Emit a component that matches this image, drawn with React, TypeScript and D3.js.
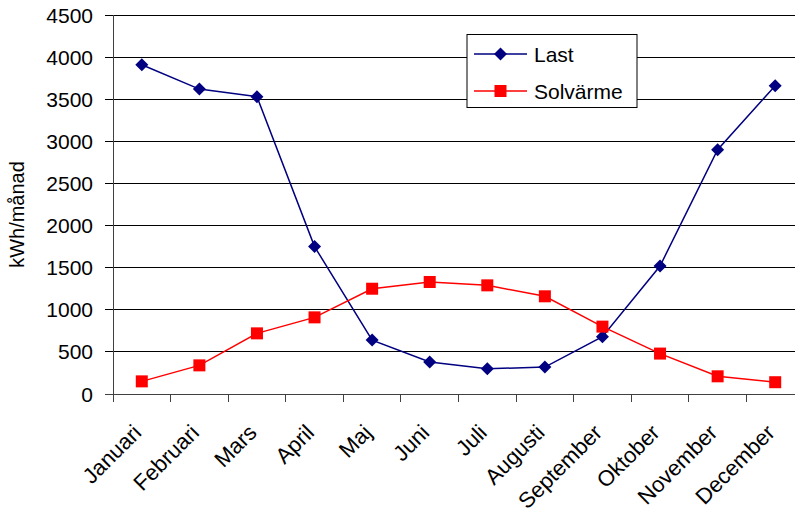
import React from "react";
import * as d3 from "d3";

const months = ["Januari","Februari","Mars","April","Maj","Juni","Juli","Augusti","September","Oktober","November","December"];
const last = [3910,3620,3530,1750,640,380,300,320,680,1520,2900,3660];
const solvarme = [150,340,720,910,1250,1330,1290,1160,800,480,210,140];
const yTicks = [0,500,1000,1500,2000,2500,3000,3500,4000,4500];

const W = 795, H = 514;
const L = 113, R = 804, T = 15, B = 394;
const FONT = "Liberation Sans, Arial, sans-serif";

export default function App() {
  const x = d3.scaleBand<string>().domain(months).range([L, R]);
  const y = d3.scaleLinear().domain([0, 4500]).range([B, T]);
  const cx = (m: string) => (x(m) as number) + x.bandwidth() / 2;
  const line = d3.line<number>().x((_, i) => cx(months[i])).y(d => y(d));
  const diamond = (px: number, py: number, r: number) => `M${px},${py - r}L${px + r},${py}L${px},${py + r}L${px - r},${py}Z`;
  return (
    <div style={{ position: "absolute", left: 0, top: 0 }}>
      <svg width={W} height={H} style={{ display: "block", background: "#fff" }}>
        {yTicks.map(t => (
          <g key={t}>
            <line x1={105} x2={W} y1={y(t)} y2={y(t)} stroke={t === 0 ? "#404040" : "#000"} strokeWidth={1} shapeRendering="crispEdges" />
            <text x={93} y={y(t)} dy="0.36em" textAnchor="end" fontFamily={FONT} fontSize={21} fill="#000">{t}</text>
          </g>
        ))}
        <line x1={L} x2={L} y1={T} y2={B + 8} stroke="#404040" strokeWidth={1} shapeRendering="crispEdges" />
        {months.map((m, i) => (
          <line key={"t" + i} x1={x(m) as number} x2={x(m) as number} y1={B} y2={B + 8} stroke="#404040" strokeWidth={1} shapeRendering="crispEdges" />
        ))}
        {months.map((m, i) => (
          <text key={"l" + i} transform={`translate(${cx(m) + 1},${B + 40}) rotate(-45)`} textAnchor="end" fontFamily={FONT} fontSize={22} fill="#000">{m}</text>
        ))}
        <text transform={`translate(24,${(T + B) / 2 + 10}) rotate(-90)`} textAnchor="middle" fontFamily={FONT} fontSize={20} fill="#000">kWh/månad</text>

        <path d={line(last) as string} fill="none" stroke="#000080" strokeWidth={1.5} />
        <path d={line(solvarme) as string} fill="none" stroke="#FF0000" strokeWidth={1.5} />
        {last.map((v, i) => (
          <path key={"d" + i} d={diamond(cx(months[i]), y(v), 6.5)} fill="#000080" />
        ))}
        {solvarme.map((v, i) => (
          <rect key={"s" + i} x={cx(months[i]) - 6} y={y(v) - 6} width={12} height={12} fill="#FF0000" />
        ))}

        <rect x={467} y={34.5} width={170} height={73} fill="#fff" stroke="#000" strokeWidth={1} />
        <line x1={474} x2={527} y1={54} y2={54} stroke="#000080" strokeWidth={1.5} />
        <path d={diamond(500.5, 54, 6.5)} fill="#000080" />
        <text x={534} y={54} dy="0.36em" fontFamily={FONT} fontSize={21} fill="#000">Last</text>
        <line x1={474} x2={527} y1={91} y2={91} stroke="#FF0000" strokeWidth={1.5} />
        <rect x={494.5} y={85} width={12} height={12} fill="#FF0000" />
        <text x={534} y={91} dy="0.36em" fontFamily={FONT} fontSize={21} fill="#000">Solvärme</text>
      </svg>
    </div>
  );
}
